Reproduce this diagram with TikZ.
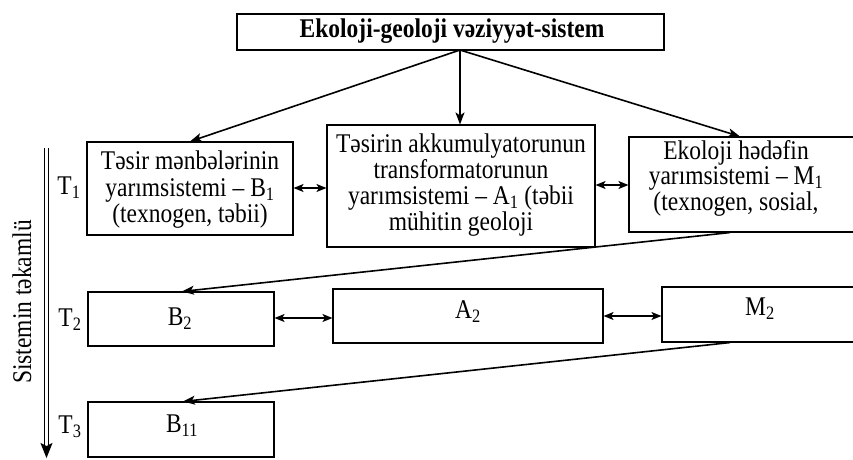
\documentclass[tikz,border=0pt]{standalone}
\usepackage{fontspec}
\setmainfont[FakeStretch=0.87]{Liberation Serif}
\usetikzlibrary{arrows.meta}
\begin{document}
\begin{tikzpicture}[x=1pt,y=-1pt,
  box/.style={draw, line width=1.1pt, inner sep=0pt},
  txt/.style={align=center, inner sep=0pt, font=\fontsize{27}{26.5}\selectfont},
  link/.style={line width=1.6pt, -{Stealth[length=12pt,width=9pt,inset=3pt]}},
  both/.style={line width=1.6pt, {Stealth[length=10pt,width=8pt,inset=2.5pt]}-{Stealth[length=10pt,width=8pt,inset=2.5pt]}}]
\useasboundingbox[fill=white] (0,0) rectangle (853,459);
\begin{scope}
\clip (0,0) rectangle (853,459);

% top system box
\node[box, minimum width=427pt, minimum height=36pt] (sys) at (450.5,32) {};
\node[txt, font=\fontsize{27}{26}\selectfont\bfseries] (systxt) at (452,31) {Ekoloji-geoloji vəziyyət-sistem};

% level T1
\node[box, minimum width=206pt, minimum height=93pt] (b1) at (190,188.5) {};
\node[txt] (b1txt) at (190,190) {Təsir mənbələrinin\\yarımsistemi – B\textsubscript{1}\\(texnogen, təbii)};
\node[box, minimum width=268pt, minimum height=122pt] (a1) at (461,186) {};
\node[txt, font=\fontsize{27}{26}\selectfont] (a1txt) at (461,185) {Təsirin akkumulyatorunun\\transformatorunun\\yarımsistemi – A\textsubscript{1} (təbii\\mühitin geoloji};
\node[box, minimum width=241pt, minimum height=95pt] (m1) at (749.5,184.5) {};
\node[txt, font=\fontsize{27}{25.5}\selectfont] (m1txt) at (736,178) {Ekoloji hədəfin\\yarımsistemi – M\textsubscript{1}\\(texnogen, sosial,};

% level T2
\node[box, minimum width=186pt, minimum height=54pt] (b2) at (181,319) {};
\node[txt] (b2txt) at (180,319) {B\textsubscript{2}};
\node[box, minimum width=270pt, minimum height=54pt] (a2) at (468,316) {};
\node[txt] (a2txt) at (468,312) {A\textsubscript{2}};
\node[box, minimum width=208pt, minimum height=55pt] (m2) at (766,314.5) {};
\node[txt] (m2txt) at (760,309) {M\textsubscript{2}};

% level T3
\node[box, minimum width=186pt, minimum height=55pt] (b3) at (181,429.5) {};
\node[txt] (b3txt) at (182,426) {B\textsubscript{11}};

% time labels
\node[txt] (t1) at (69,188) {T\textsubscript{1}};
\node[txt] (t2) at (70,320) {T\textsubscript{2}};
\node[txt] (t3) at (70,427) {T\textsubscript{3}};

% evolution axis: two parallel rules ending in one arrowhead
\coordinate (evtop) at (46.5,148);
\coordinate (evend) at (46.5,445);
\coordinate (evbot) at (46.5,458);
\draw[line width=1.3pt] ([xshift=-2pt]evtop) -- ([xshift=-2pt]evend);
\draw[line width=1.3pt] ([xshift=2pt]evtop) -- ([xshift=2pt]evend);
\draw[line width=1pt, -{Stealth[length=15pt,width=12pt,inset=3pt]}] ([yshift=-12pt]evend) -- (evbot);
\node[txt, rotate=90] (evlab) at (22,302) {Sistemin təkamlü};

% connectors
\coordinate (src) at (460,50);
\draw[link] (src) -- (b1.north -| 190,0);
\draw[link] (src) -- (a1.north -| 460,0);
\draw[link] (src) -- (m1.north -| 740,0);
\draw[both] (b1.east |- 0,188) -- (a1.west |- 0,188);
\draw[both] (a1.east |- 0,185) -- (m1.west |- 0,185);
\draw[link] (m1.south -| 730,0) -- (b2.north -| 182,0);
\draw[both] (b2.east |- 0,318) -- (a2.west |- 0,318);
\draw[both] (a2.east |- 0,316) -- (m2.west |- 0,316);
\draw[link] (m2.south -| 730,0) -- (b3.north -| 183,0);
\end{scope}
\end{tikzpicture}
\end{document}
